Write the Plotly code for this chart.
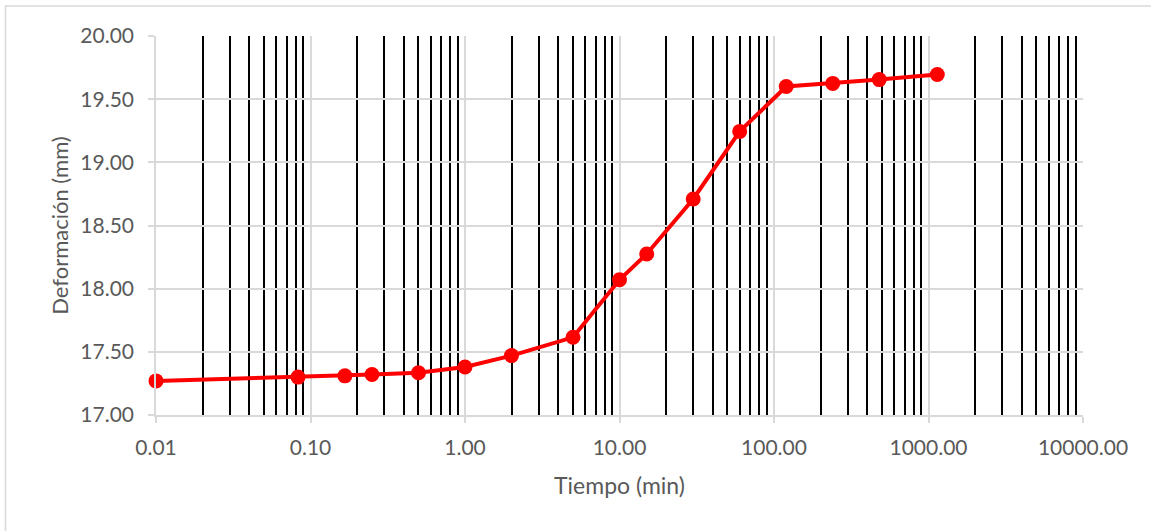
import plotly.graph_objects as go

tiempo = [0.01, 0.083, 0.167, 0.25, 0.5, 1, 2, 5, 10, 15, 30, 60, 120, 240, 480, 1140]
deformacion = [17.27, 17.30, 17.31, 17.32, 17.335, 17.38, 17.47, 17.615, 18.07, 18.275,
               18.71, 19.245, 19.60, 19.625, 19.655, 19.695]

x_tickvals = [0.01, 0.1, 1, 10, 100, 1000, 10000]
x_ticktext = ["0.01", "0.10", "1.00", "10.00", "100.00", "1000.00", "10000.00"]
y_tickvals = [17.0, 17.5, 18.0, 18.5, 19.0, 19.5, 20.0]
y_ticktext = ["17.00", "17.50", "18.00", "18.50", "19.00", "19.50", "20.00"]
minor_vals = [m * d for d in [0.01, 0.1, 1, 10, 100, 1000] for m in range(2, 10)]

font_family = "Lato, 'Open Sans', sans-serif"
grey_text = "#595959"

fig = go.Figure()
fig.add_trace(go.Scatter(
    x=tiempo, y=deformacion, mode="lines+markers",
    line=dict(color="#ff0000", width=4),
    marker=dict(color="#ff0000", size=15),
    showlegend=False, cliponaxis=False,
))

fig.update_layout(
    width=1151, height=531,
    margin=dict(l=156, r=68, t=36, b=116),
    paper_bgcolor="white", plot_bgcolor="white",
    font=dict(family=font_family, color=grey_text, size=21),
    xaxis=dict(
        type="log", range=[-2, 4],
        tickvals=x_tickvals, ticktext=x_ticktext,
        showgrid=True, gridcolor="#d9d9d9", gridwidth=1.5,
        showline=True, linecolor="#d9d9d9", linewidth=1.5,
        ticks="outside", ticklen=6, tickcolor="#d9d9d9", tickwidth=1.5,
        ticklabelstandoff=7,
        tickfont=dict(size=21, color=grey_text),
        minor=dict(tickvals=minor_vals, showgrid=True, gridcolor="black", gridwidth=1.8, ticks=""),
        title=dict(text="Tiempo (min)", font=dict(size=23, color=grey_text), standoff=20),
        zeroline=False,
    ),
    yaxis=dict(
        range=[17, 20],
        tickvals=y_tickvals, ticktext=y_ticktext,
        showgrid=True, gridcolor="#d9d9d9", gridwidth=1.5,
        showline=True, linecolor="#d9d9d9", linewidth=1.5,
        ticks="outside", ticklen=6, tickcolor="#d9d9d9", tickwidth=1.5,
        ticklabelstandoff=10,
        tickfont=dict(size=21, color=grey_text),
        title=dict(text="Deformación (mm)", font=dict(size=22, color=grey_text), standoff=6),
        zeroline=False,
    ),
    shapes=[dict(type="rect", xref="paper", yref="paper",
                 x0=-150.5/927, x1=1.3, y0=-0.5, y1=1 + 30/379,
                 line=dict(color="#d9d9d9", width=1.5), layer="below")],
)

fig.write_html("out.html", config={"displayModeBar": False},
               post_script="document.body.style.margin='0';")
